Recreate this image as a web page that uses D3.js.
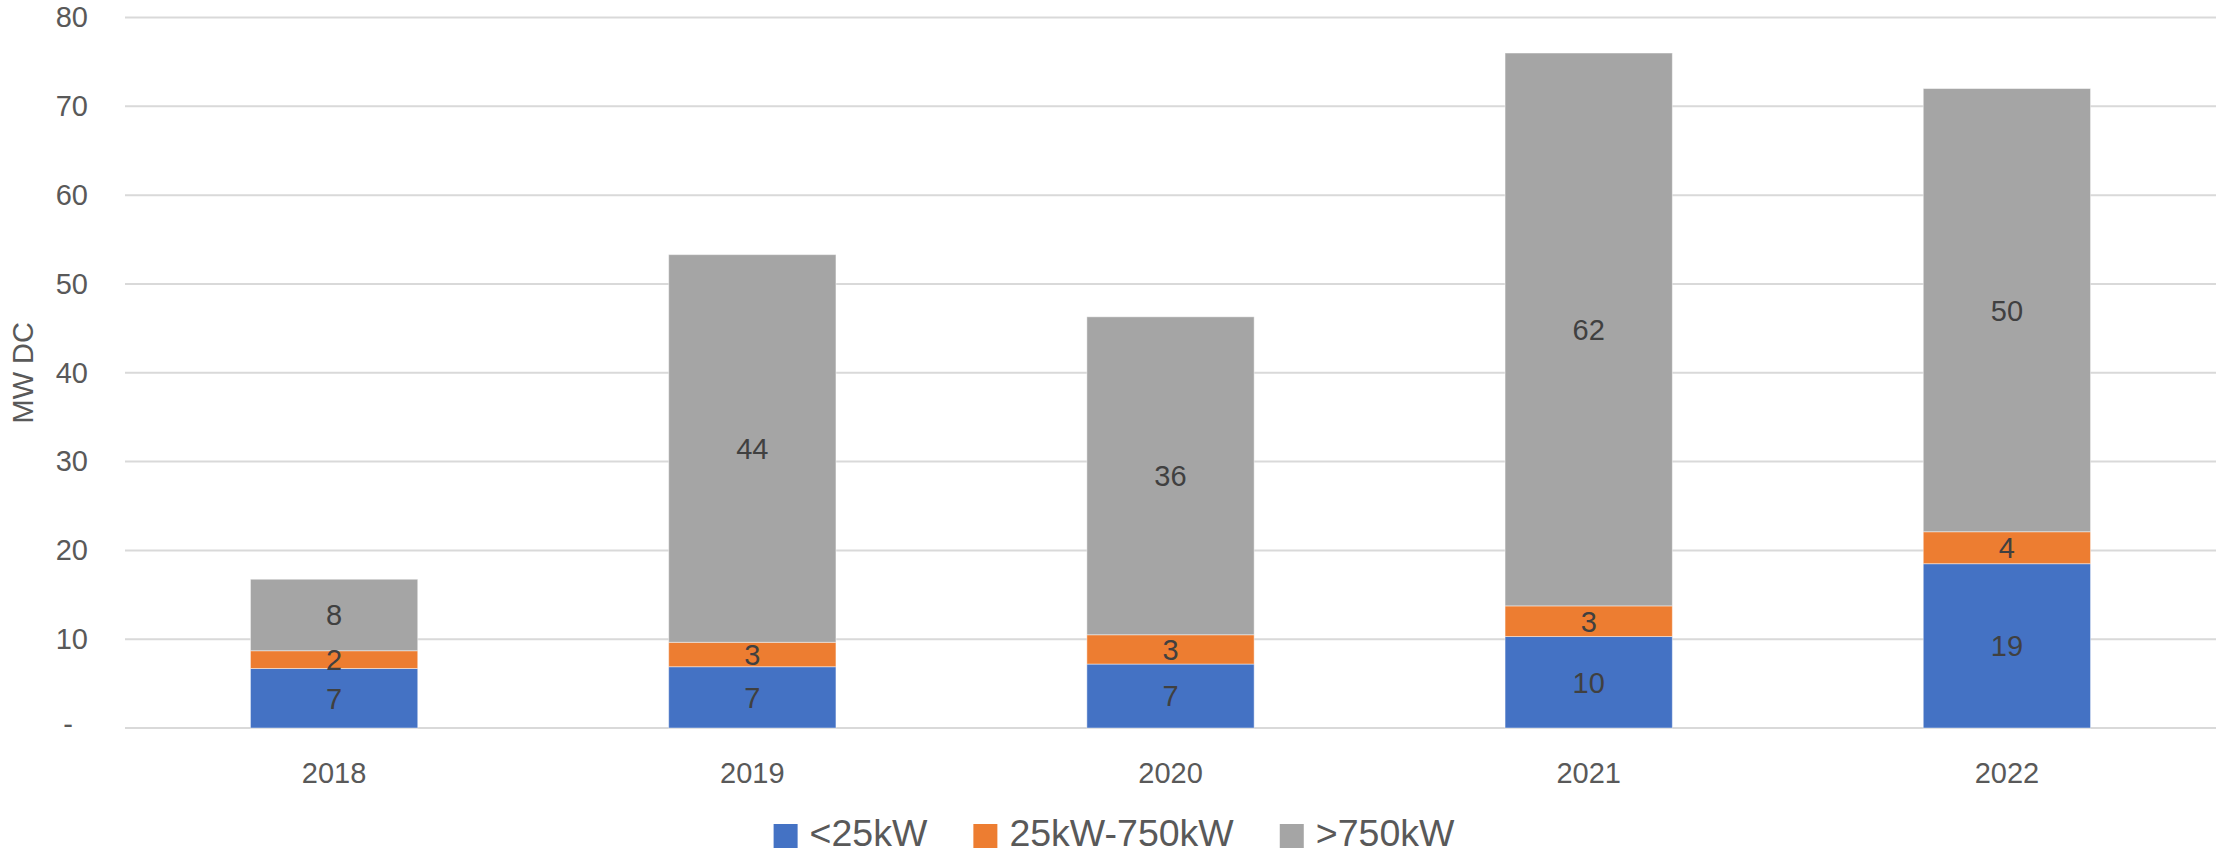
<!DOCTYPE html>
<html>
<head>
<meta charset="utf-8">
<script src="https://cdn.jsdelivr.net/npm/d3@7"></script>
<style>
  html, body { margin: 0; padding: 0; background: #ffffff; }
  svg { display: block; font-family: "Liberation Sans", Arial, sans-serif; }
</style>
</head>
<body>
<svg id="chart" width="2216" height="856"></svg>
<script>
// ---- data ----
const years = ["2018", "2019", "2020", "2021", "2022"];
const seriesNames = ["<25kW", "25kW-750kW", ">750kW"];
const small = [6.7, 6.9, 7.2, 10.3, 18.5];
const medium = [2.0, 2.75, 3.3, 3.45, 3.6];
const large = [8.05, 43.65, 35.8, 62.25, 49.9];
const yTicks = [0, 10, 20, 30, 40, 50, 60, 70, 80];
const colors = ["#4472C4", "#ED7D31", "#A5A5A5"];

const rows = years.map((y, i) => ({ year: y, "<25kW": small[i], "25kW-750kW": medium[i], ">750kW": large[i] }));

const W = 2216, H = 856;
const margin = { left: 125, right: 0, top: 17.5, bottom: 128 };
const svg = d3.select("#chart");

const x = d3.scaleBand().domain(years).range([margin.left, W - margin.right]).paddingInner(0.6).paddingOuter(0.3);
const y = d3.scaleLinear().domain([0, 80]).range([H - margin.bottom, margin.top]);

// gridlines
svg.append("g").selectAll("line").data(yTicks).join("line")
  .attr("x1", margin.left).attr("x2", W - margin.right)
  .attr("y1", d => y(d)).attr("y2", d => y(d))
  .attr("stroke", "#D9D9D9").attr("stroke-width", 2);

// y axis labels
const yAxis = d3.axisLeft(y).tickValues(yTicks).tickSize(0).tickPadding(37)
  .tickFormat(d => d === 0 ? "-" : d3.format("d")(d));
const gy = svg.append("g").attr("transform", `translate(${margin.left},0)`).call(yAxis);
gy.select(".domain").remove();
gy.selectAll("text").attr("font-size", 29).attr("fill", "#595959")
  .attr("font-family", "Liberation Sans, Arial, sans-serif");
gy.selectAll(".tick").filter(d => d === 0).select("text").attr("x", -52).attr("dy", "0.2em");

// stacked bars
const stack = d3.stack().keys(seriesNames);
const stacked = stack(rows);
const layers = svg.append("g").selectAll("g").data(stacked).join("g")
  .attr("fill", (d, i) => colors[i]);
layers.selectAll("rect").data(d => d).join("rect")
  .attr("x", d => x(d.data.year))
  .attr("width", x.bandwidth())
  .attr("y", d => y(d[1]))
  .attr("height", d => y(d[0]) - y(d[1]))
  .attr("stroke", "rgba(255,255,255,0.45)").attr("stroke-width", 1);

// data labels
const lab = svg.append("g");
stacked.forEach(layer => {
  lab.selectAll(null).data(layer).join("text")
    .attr("x", d => x(d.data.year) + x.bandwidth() / 2)
    .attr("y", d => (y(d[0]) + y(d[1])) / 2)
    .attr("dy", "0.36em")
    .attr("text-anchor", "middle")
    .attr("font-size", 29)
    .attr("fill", "#404040")
    .text(d => d3.format(".0f")(d[1] - d[0]));
});

// x axis labels
const xAxis = d3.axisBottom(x).tickSize(0).tickPadding(34);
const gx = svg.append("g").attr("transform", `translate(0,${y(0)})`).call(xAxis);
gx.select(".domain").remove();
gx.selectAll("text").attr("font-size", 29).attr("fill", "#595959")
  .attr("font-family", "Liberation Sans, Arial, sans-serif");

// y axis title
svg.append("text")
  .attr("transform", `translate(33,${(y(0) + y(80)) / 2}) rotate(-90)`)
  .attr("text-anchor", "middle")
  .attr("font-size", 29).attr("fill", "#595959")
  .text("MW DC");

// legend
const legend = svg.append("g");
const sq = 24, gapText = 12, gapItem = 46, legFont = 37.5, legBase = 846;
const items = legend.selectAll("g").data(seriesNames).join("g");
items.append("rect").attr("width", sq).attr("height", sq)
  .attr("y", legBase - sq + 2).attr("fill", (d, i) => colors[i]);
items.append("text").attr("x", sq + gapText).attr("y", legBase)
  .attr("font-size", legFont).attr("fill", "#595959").text(d => d);
const widths = [];
items.each(function () {
  const w = sq + gapText + this.querySelector("text").getComputedTextLength();
  widths.push(w);
});
const total = d3.sum(widths) + gapItem * (widths.length - 1);
let start = W / 2 + 6 - total / 2;
items.attr("transform", (d, i) => {
  const t = `translate(${start},0)`;
  start += widths[i] + gapItem;
  return t;
});
</script>
</body>
</html>
